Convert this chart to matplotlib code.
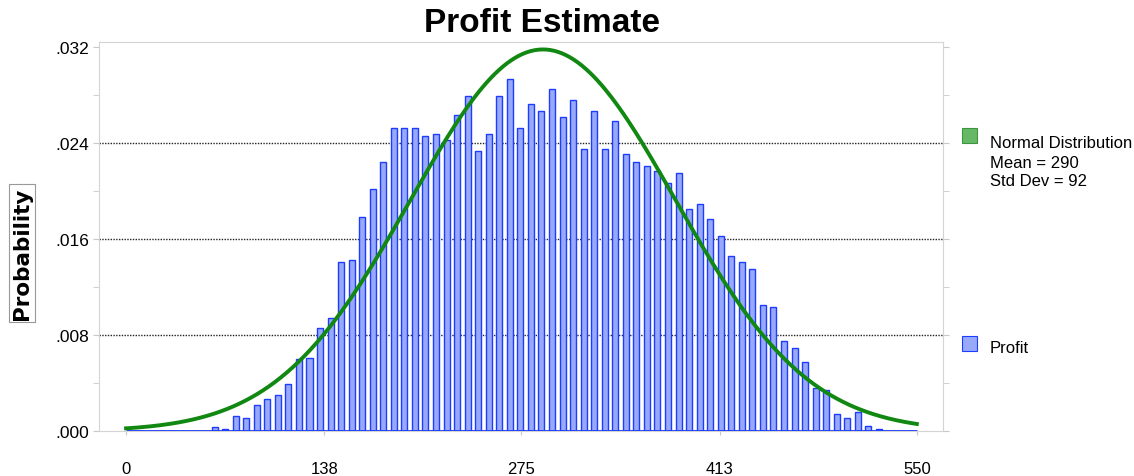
import matplotlib
matplotlib.use('Agg')
import matplotlib.pyplot as plt
import numpy as np
from matplotlib.patches import Rectangle

plt.rcParams['font.family'] = ['Liberation Sans', 'DejaVu Sans']

# Histogram data (75 bins over 0..550)
bin_lo, bin_hi, n_bins = 0, 550, 75
profit = [0.0] * 8 + [
    0.00031, 0.00017, 0.00125, 0.00108, 0.00220, 0.00267, 0.00297, 0.00390,
    0.00597, 0.00611, 0.00861, 0.00939, 0.01410, 0.01428, 0.01783, 0.02020,
    0.02242, 0.02522, 0.02522, 0.02522, 0.02461, 0.02475, 0.02428, 0.02631,
    0.02792, 0.02333, 0.02475, 0.02792, 0.02931, 0.02522, 0.02725, 0.02664,
    0.02853, 0.02617, 0.02758, 0.02353, 0.02664, 0.02353, 0.02586, 0.02306,
    0.02242, 0.02211, 0.02164, 0.02069, 0.02147, 0.01847, 0.01894, 0.01769,
    0.01628, 0.01456, 0.01408, 0.01347, 0.01050, 0.01036, 0.00753, 0.00689,
    0.00578, 0.00358, 0.00344, 0.00139, 0.00108, 0.00156, 0.00044, 0.00017,
] + [0.0] * 3

# fitted normal (from the legend)
mean, std = 290, 92

xticks = [0, 138, 275, 413, 550]
yticks = [0.0, 0.008, 0.016, 0.024, 0.032]
ytick_labels = ['.000', '.008', '.016', '.024', '.032']

W, H = 1134, 477
fig = plt.figure(figsize=(W / 100, H / 100), dpi=100)
ax = fig.add_axes([99 / W, 1 - 432 / H, 844 / W, 389 / H])

bw = (bin_hi - bin_lo) / n_bins
centers = bin_lo + (np.arange(n_bins) + 0.4) * bw
ax.bar(centers, profit, width=bw * 0.57, color='#98a9fa', edgecolor='#1c3cff',
       linewidth=1.0, zorder=3)
ax.plot([bin_lo, bin_hi], [0, 0], color='#1c3cff', lw=2, zorder=3,
        solid_capstyle='butt')

xs = np.linspace(bin_lo, bin_hi, 400)
curve = bw * np.exp(-0.5 * ((xs - mean) / std) ** 2) / (std * np.sqrt(2 * np.pi))
ax.plot(xs, curve, color='#118811', lw=2.8, zorder=4)

ax.set_xlim(-18.8, 568.2)
ax.set_ylim(0, 0.03242)

for y in yticks[1:-1]:
    ax.axhline(y, color='#222222', lw=1, ls=(0, (1, 1)), zorder=1)

ax.set_xticks(xticks)
ax.set_xticklabels([str(t) for t in xticks], fontsize=12)
ax.set_yticks(yticks)
ax.set_yticklabels(ytick_labels, fontsize=12.5)
ax.set_yticks(np.arange(0.004, 0.032, 0.008), minor=True)
ax.tick_params(axis='x', length=3, color='#c8c8c8', pad=18.5)
ax.tick_params(axis='y', which='both', length=4, color='#c8c8c8', pad=3,
               right=True)
for s in ax.spines.values():
    s.set_color('#d4d4d4')

fig.text(542 / W, 1 - 23 / H, 'Profit Estimate', fontsize=24, fontweight='bold',
         ha='center', va='center')
fig.text(22 / W, 1 - 254 / H, 'Probability', fontsize=15.5, fontweight='bold',
         family='DejaVu Sans', rotation=90, ha='center', va='center',
         bbox=dict(boxstyle='square,pad=0.12', fc='white', ec='#999999', lw=0.8))

# legend
fig.add_artist(Rectangle((962 / W, 1 - 144 / H), 15 / W, 15 / H,
                         transform=fig.transFigure, fc='#66b866', ec='#3c963c', lw=0.8))
fig.add_artist(Rectangle((962 / W, 1 - 352 / H), 15 / W, 15 / H,
                         transform=fig.transFigure, fc='#98a9fa', ec='#1c3cff', lw=0.8))
for txt, yy in [('Normal Distribution', 144), ('Mean = 290', 163),
                ('Std Dev = 92', 182), ('Profit', 349)]:
    fig.text(990 / W, 1 - yy / H, txt, fontsize=12, ha='left', va='center')

fig.savefig('out.png', dpi=100)
